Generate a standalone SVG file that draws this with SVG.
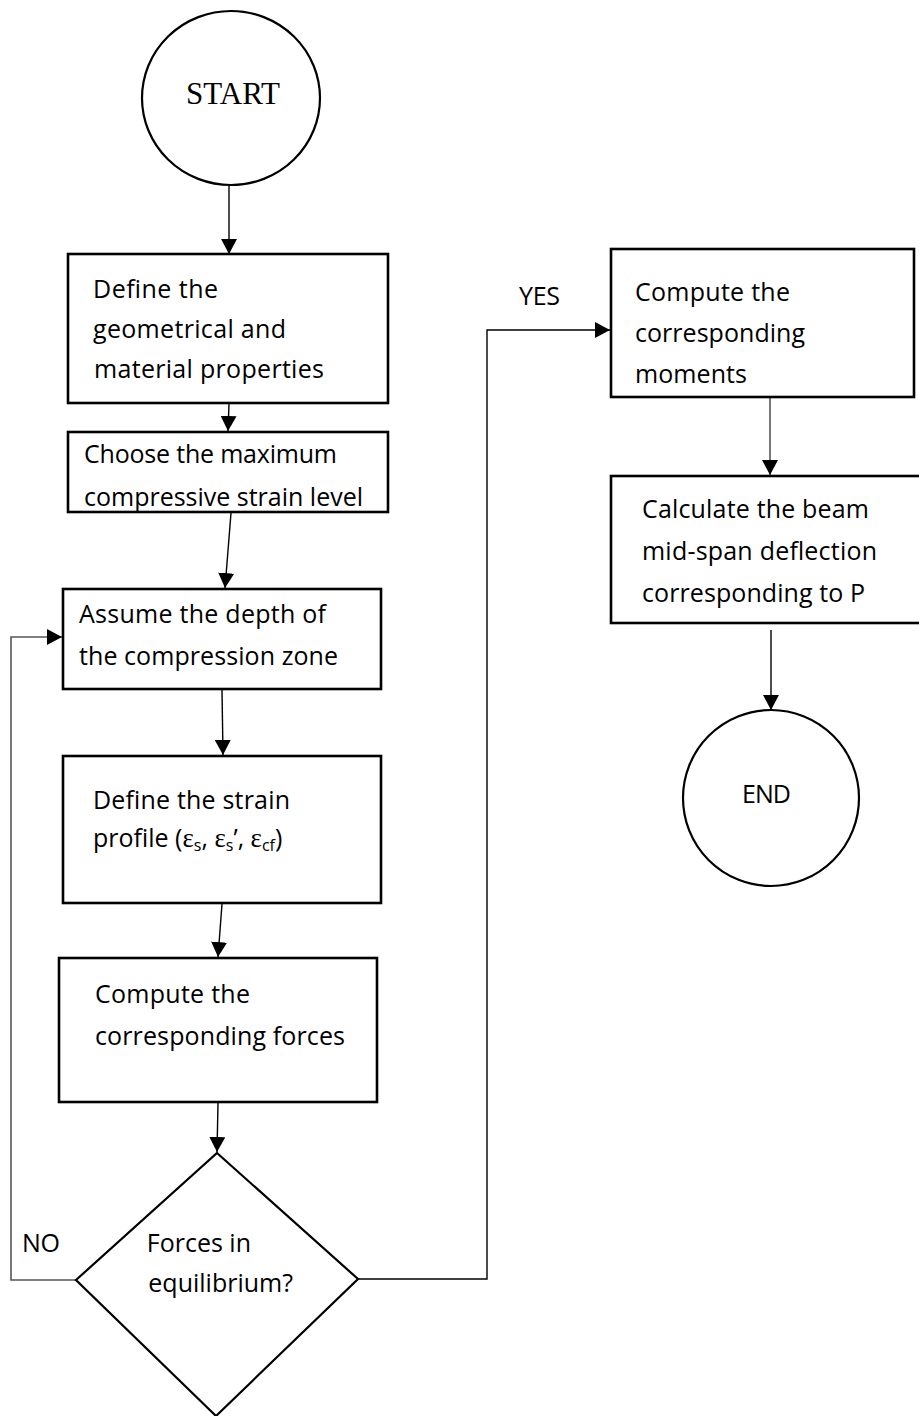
<svg xmlns="http://www.w3.org/2000/svg" width="919" height="1416" viewBox="0 0 919 1416">
  <style>
    .box { fill: #fff; stroke: #000; stroke-width: 2.6; }
    .term { fill: #fff; stroke: #000; stroke-width: 2.2; }
    .lbl { font-family: "Open Sans", "Noto Sans", sans-serif; font-size: 25px; fill: #000; }
    .serif { font-family: "Liberation Serif", serif; }
    .eps { font-family: "Liberation Serif", serif; font-size: 27px; }
    .sub { font-size: 16px; }
    .conn { fill: none; stroke: #000; stroke-width: 1.4; }
    .conn.grey { stroke: #555; stroke-width: 1.6; }
  </style>
  <defs>
    <marker id="arrow" markerUnits="userSpaceOnUse" markerWidth="16" markerHeight="16" refX="15" refY="8" orient="auto">
      <path d="M0,0 L15,8 L0,16 z" fill="#000"/>
    </marker>
  </defs>

  <rect width="919" height="1416" fill="#fff"/>

  <!-- connectors -->
  <g id="connectors">
    <path class="conn" d="M229,186 L229,254" marker-end="url(#arrow)"/>
    <path class="conn" d="M229,404 L228,431" marker-end="url(#arrow)"/>
    <path class="conn" d="M231,513 L225,588" marker-end="url(#arrow)"/>
    <path class="conn" d="M222,690 L223,755" marker-end="url(#arrow)"/>
    <path class="conn" d="M222,904 L218,957" marker-end="url(#arrow)"/>
    <path class="conn" d="M218,1103 L217,1152" marker-end="url(#arrow)"/>
    <path class="conn grey" d="M76,1280 H11 V637 H62" marker-end="url(#arrow)"/>
    <path class="conn" d="M358,1279 H487 V330 H610" marker-end="url(#arrow)"/>
    <path class="conn grey" d="M770,398 L770,475" marker-end="url(#arrow)"/>
    <path class="conn" d="M771,630 L771,710" marker-end="url(#arrow)"/>
    <text class="lbl" x="519" y="305" textLength="41">YES</text>
    <text class="lbl" x="22" y="1252" textLength="38">NO</text>
  </g>

  <g id="start">
    <ellipse class="term" cx="231" cy="98" rx="89" ry="87"/>
    <text class="serif" x="233" y="104" font-size="31" text-anchor="middle">START</text>
  </g>

  <g id="define-properties">
    <rect class="box" x="68" y="254" width="320" height="149"/>
    <text class="lbl" x="93" y="298" textLength="125">Define the</text>
    <text class="lbl" x="93" y="338" textLength="193">geometrical and</text>
    <text class="lbl" x="94" y="378" textLength="230">material properties</text>
  </g>

  <g id="choose-strain">
    <rect class="box" x="68" y="432" width="320" height="80"/>
    <text class="lbl" x="84" y="463" textLength="253">Choose the maximum</text>
    <text class="lbl" x="84" y="506" textLength="279">compressive strain level</text>
  </g>

  <g id="assume-depth">
    <rect class="box" x="63" y="589" width="318" height="100"/>
    <text class="lbl" x="79" y="623" textLength="247">Assume the depth of</text>
    <text class="lbl" x="79" y="665" textLength="259">the compression zone</text>
  </g>

  <g id="strain-profile">
    <rect class="box" x="63" y="756" width="318" height="147"/>
    <text class="lbl" x="93" y="809" textLength="197">Define the strain</text>
    <text class="lbl" x="93" y="847">profile (<tspan class="eps">ε</tspan><tspan class="sub" dy="4">s</tspan><tspan dy="-4">, </tspan><tspan class="eps">ε</tspan><tspan class="sub" dy="4">s</tspan><tspan dy="-4">’, </tspan><tspan class="eps">ε</tspan><tspan class="sub" dy="4">cf</tspan><tspan dy="-4">)</tspan></text>
  </g>

  <g id="compute-forces">
    <rect class="box" x="59" y="958" width="318" height="144"/>
    <text class="lbl" x="95" y="1003" textLength="155">Compute the</text>
    <text class="lbl" x="95" y="1045" textLength="250">corresponding forces</text>
  </g>

  <g id="equilibrium">
    <polygon class="term" points="217,1153 358,1279 216,1416 76,1280"/>
    <text class="lbl" x="251" y="1252" text-anchor="end">Forces in</text>
    <text class="lbl" x="293" y="1292" text-anchor="end">equilibrium?</text>
  </g>

  <g id="compute-moments">
    <rect class="box" x="611" y="249" width="303" height="148"/>
    <text class="lbl" x="635" y="301" textLength="155">Compute the</text>
    <text class="lbl" x="635" y="342" textLength="170">corresponding</text>
    <text class="lbl" x="635" y="383" textLength="112">moments</text>
  </g>

  <g id="deflection">
    <rect class="box" x="611" y="476" width="310" height="147"/>
    <text class="lbl" x="642" y="518" textLength="227">Calculate the beam</text>
    <text class="lbl" x="642" y="560" textLength="235">mid-span deflection</text>
    <text class="lbl" x="642" y="602" textLength="223">corresponding to P</text>
  </g>

  <g id="end">
    <circle class="term" cx="771" cy="798" r="88"/>
    <text class="lbl" x="742" y="803" textLength="49">END</text>
  </g>
</svg>
